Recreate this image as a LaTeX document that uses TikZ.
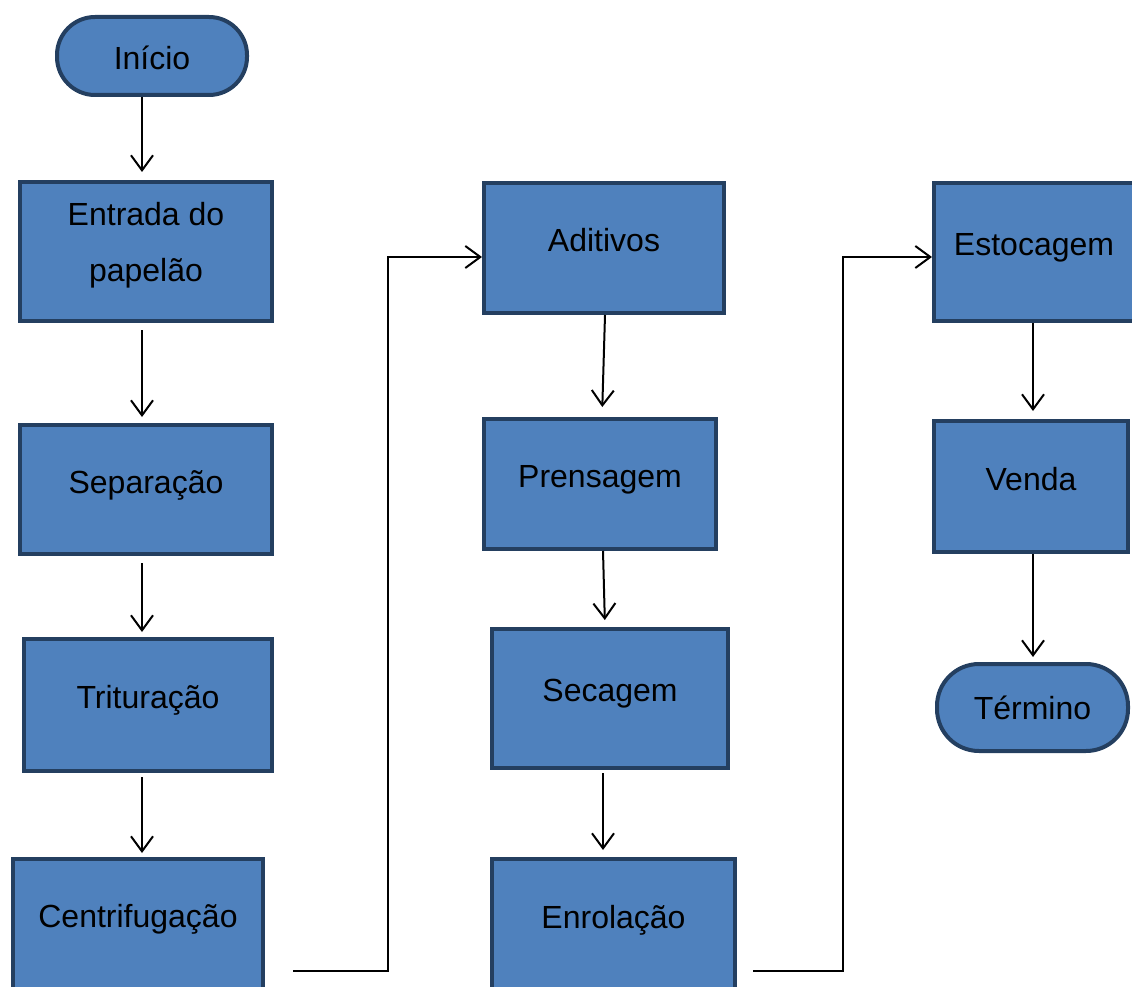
\documentclass[tikz,border=0pt]{standalone}
\usepackage{fontspec}
\setmainfont{Liberation Sans}
\usetikzlibrary{arrows.meta}
\definecolor{boxfill}{HTML}{4F81BD}
\definecolor{boxline}{HTML}{243F60}
\begin{document}
\begin{tikzpicture}[x=1pt,y=-1pt,
  box/.style={draw=boxline, fill=boxfill, line width=4pt, inner sep=0pt,
    font=\fontsize{32}{56}\selectfont, align=center},
  term/.style={box, rounded corners=38pt},
  conn/.style={draw=black, line width=2pt,
    -{Straight Barb[length=15pt,width=22pt]}},
  plain/.style={draw=black, line width=2pt}]
\useasboundingbox (0,0) rectangle (1132,987);
% column 1
\node[term, minimum width=190pt, minimum height=78pt, text height=28pt, text depth=0pt] (ini) at (152,56) {Início};
\node[box, minimum width=252pt, minimum height=139pt, text depth=20pt] (ent) at (146,251.5) {Entrada do\\papelão};
\node[box, minimum width=252pt, minimum height=129pt, text depth=15pt] (sep) at (146,489.5) {Separação};
\node[box, minimum width=248pt, minimum height=132pt, text depth=16pt] (tri) at (148,705) {Trituração};
\node[box, minimum width=250pt, minimum height=134pt, text depth=20pt] (cen) at (138,926) {Centrifugação};
% column 2
\node[box, minimum width=240pt, minimum height=130pt, text depth=16pt] (adi) at (604,248) {Aditivos};
\node[box, minimum width=232pt, minimum height=130pt, text depth=16pt] (pre) at (600,484) {Prensagem};
\node[box, minimum width=236pt, minimum height=139pt, text depth=17pt] (sec) at (610,698.5) {Secagem};
\node[box, minimum width=243pt, minimum height=134pt, text depth=18pt] (enr) at (613.5,926) {Enrolação};
% column 3
\node[box, minimum width=200pt, minimum height=138pt, text depth=16pt] (est) at (1034,252) {Estocagem};
\node[box, minimum width=194pt, minimum height=131pt, text depth=15pt] (ven) at (1031,486.5) {Venda};
\node[term, minimum width=191pt, minimum height=87pt, rounded corners=42pt] (ter) at (1032.5,707.5) {Término};
% vertical connectors
\draw[conn, shorten >=8pt] ([xshift=-10pt]ini.south) -- ([xshift=-4pt]ent.north);
\draw[conn, shorten <=7pt, shorten >=6pt] ([xshift=-4pt]ent.south) -- ([xshift=-4pt]sep.north);
\draw[conn, shorten <=7pt, shorten >=5pt] ([xshift=-4pt]sep.south) -- ([xshift=-6pt]tri.north);
\draw[conn, shorten <=4pt, shorten >=4pt] ([xshift=-6pt]tri.south) -- ([xshift=4pt]cen.north);
\draw[conn, shorten >=10pt] ([xshift=1pt]adi.south) -- ([xshift=2pt]pre.north);
\draw[conn, shorten >=7pt] ([xshift=3pt]pre.south) -- ([xshift=-5pt]sec.north);
\draw[conn, shorten <=3pt, shorten >=7pt] ([xshift=-7pt]sec.south) -- ([xshift=-10.5pt]enr.north);
\draw[conn, shorten >=8pt] ([xshift=-1pt]est.south) -- ([xshift=2pt]ven.north);
\draw[conn, shorten >=5pt] ([xshift=2pt]ven.south) -- ([xshift=0.5pt]ter.north);
% elbow connectors
\coordinate (c1) at (293,971);
\coordinate (c1b) at (388,971);
\coordinate (c1t) at (388,257);
\draw[conn] (c1) -- (c1b) -- (c1t) -- (c1t -| adi.west);
\coordinate (c2) at (753,971);
\coordinate (c2b) at (843,971);
\coordinate (c2t) at (843,257);
\draw[conn] (c2) -- (c2b) -- (c2t) -- (c2t -| est.west);
\end{tikzpicture}
\end{document}
